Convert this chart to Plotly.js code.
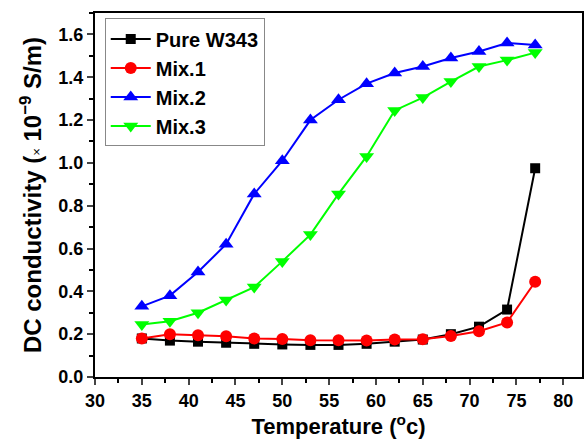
<!DOCTYPE html>
<html><head><meta charset="utf-8">
<script src="https://cdn.plot.ly/plotly-3.0.1.min.js"></script>
<style>html,body{margin:0;padding:0;background:#fff}#chart{width:586px;height:440px}</style>
</head><body><div id="chart"></div>
<script>
const temperature = [35,38,41,44,47,50,53,56,59,62,65,68,71,74,77];
const pureW343 = [0.18,0.17,0.165,0.16,0.155,0.152,0.15,0.15,0.155,0.165,0.175,0.2,0.235,0.315,0.975];
const mix1 = [0.18,0.2,0.195,0.19,0.18,0.178,0.172,0.172,0.17,0.175,0.176,0.191,0.214,0.255,0.445];
const mix2 = [0.33,0.38,0.49,0.62,0.855,1.01,1.2,1.295,1.37,1.42,1.45,1.49,1.52,1.56,1.55];
const mix3 = [0.245,0.26,0.30,0.36,0.42,0.54,0.665,0.855,1.03,1.245,1.305,1.38,1.45,1.48,1.515];
const seriesNames = ['Pure W343','Mix.1','Mix.2','Mix.3'];
const xTickVals = [30,35,40,45,50,55,60,65,70,75,80];
const yTickVals = [0,0.2,0.4,0.6,0.8,1.0,1.2,1.4,1.6];

const font = 'Liberation Sans, Arial, sans-serif';
function tr(y, name, color, symbol, size){
  return {x: temperature, y: y, name: name, type:'scatter', mode:'lines+markers',
    line:{color: color, width:2}, marker:{color: color, symbol: symbol, size: size, line:{width:0}}};
}
const data = [
  tr(pureW343, seriesNames[0], '#000000', 'square', 10),
  tr(mix1, seriesNames[1], '#ff0000', 'circle', 12),
  tr(mix2, seriesNames[2], '#0000ff', 'triangle-up', 13),
  tr(mix3, seriesNames[3], '#00ff00', 'triangle-down', 13)
];
const layout = {
  width:586, height:440,
  margin:{l:95, r:4, t:13, b:63},
  paper_bgcolor:'#fff', plot_bgcolor:'#fff',
  font:{family: font, color:'#000'},
  showlegend:true,
  legend:{x:0.02, y:0.985, xanchor:'left', yanchor:'top', bgcolor:'#fff', bordercolor:'#888', borderwidth:1,
    font:{family: font, size:20, weight:'bold'}, tracegroupgap:0, itemwidth:40},
  xaxis:{range:[30,82], tickvals: xTickVals, ticks:'outside', ticklen:6, tickwidth:2, showgrid:false, zeroline:false,
    showline:true, linewidth:2, linecolor:'#000', mirror:true,
    tickfont:{family: font, size:18, weight:'bold'},
    minor:{dtick:2.5, ticks:'outside', ticklen:4, tickwidth:2, tickcolor:'#000', showgrid:false},
    title:{text:'Temperature (<sup>o</sup>c)', font:{family: font, size:22, weight:'bold'}, standoff:4}},
  yaxis:{range:[0,1.7], tickvals: yTickVals, tickformat:'.1f', ticks:'outside', ticklen:6, tickwidth:2, showgrid:false, zeroline:false,
    showline:true, linewidth:2, linecolor:'#000', mirror:true,
    tickfont:{family: font, size:18, weight:'bold'},
    minor:{dtick:0.1, ticks:'outside', ticklen:4, tickwidth:2, tickcolor:'#000', showgrid:false},
    title:{text:'DC conductivity (<span style="font-size:13px;font-weight:normal">×</span> 10<sup>−9</sup> S/m)', font:{family: font, size:24, weight:'bold'}, standoff:10}}
};
Plotly.newPlot('chart', data, layout, {displayModeBar:false, staticPlot:true});
</script></body></html>
